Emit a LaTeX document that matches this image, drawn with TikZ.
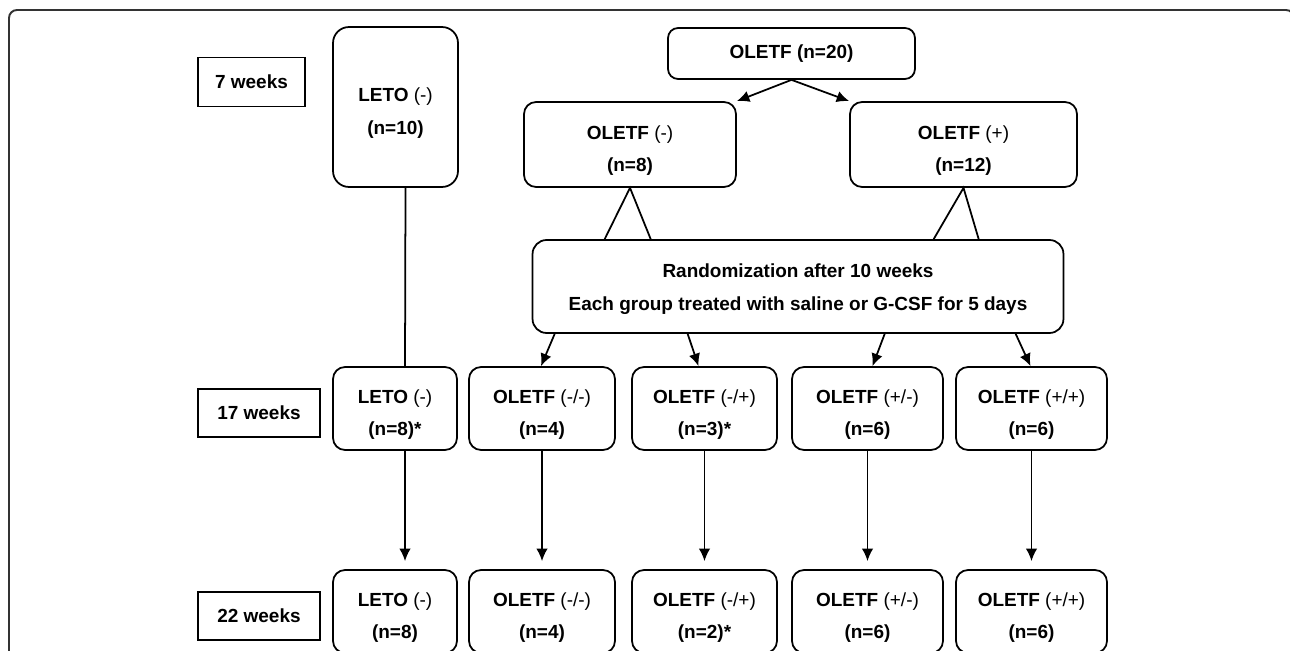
\documentclass[tikz,border=0pt]{standalone}
\usepackage{fontspec}
\setmainfont{Liberation Sans}
\usetikzlibrary{arrows.meta,calc}

\begin{document}
\begin{tikzpicture}[x=0.02cm, y=-0.02cm, >={Latex[length=2.5mm,width=2.3mm]}, line width=1pt,
  every node/.style={font=\fontsize{10.8}{18.7}\selectfont\bfseries, align=center, inner sep=0pt},
  week/.style={draw, minimum width=2.44cm, minimum height=0.96cm},
  grp/.style={draw, rounded corners=0.24cm, minimum height=1.66cm, text height=33.5pt}]

  \useasboundingbox (0,0) rectangle (1290,651);

  % Frame

  \draw[black!80, line width=1.1pt, rounded corners=0.16cm] (9,10) rectangle (1294,720);

  % Week labels

  \node[week, minimum width=2.14cm, minimum height=0.98cm] (wk0) at (251.5,82) {7 weeks};
  \node[week] (wk1) at (259,413) {17 weeks};
  \node[week] (wk2) at (259,616) {22 weeks};

  % LETO column

  \node[grp, rounded corners=0.32cm, minimum width=2.5cm, minimum height=3.2cm] (lt0) at (395.5,107) {LETO {\mdseries (-)}\\(n=10)};
  \node[grp, minimum width=2.48cm] (lt1) at (395,408.5) {LETO {\mdseries (-)}\\(n=8)*};
  \node[grp, minimum width=2.48cm] (lt2) at (395,611.5) {LETO {\mdseries (-)}\\(n=8)};

  \draw ($(lt0.south)+(10,0)$) -- ($(lt1.north)+(10,0)$);
  \draw[->, shorten >=0.16cm] ($(lt1.south)+(10,0)$) -- ($(lt2.north)+(10,0)$);

  % OLETF split

  \node[draw, rounded corners=0.2cm, minimum width=4.94cm, minimum height=1.02cm] (ot0) at (791.5,53.5) {OLETF (n=20)};
  \node[grp, minimum width=4.24cm, minimum height=1.7cm] (om) at (630,144.5) {OLETF {\mdseries (-)}\\(n=8)};
  \node[grp, minimum width=4.54cm, minimum height=1.7cm] (op) at (963.5,144.5) {OLETF {\mdseries (+)}\\(n=12)};

  \draw[->] (ot0.south) -- (om.north east);
  \draw[->] (ot0.south) -- (op.north west);

  % Randomization

  \node[grp, rounded corners=0.28cm, minimum width=10.62cm, minimum height=1.86cm, text height=29.4pt] (rnd) at (798,286.5)
    {Randomization after 10 weeks\\Each group treated with saline or G-CSF for 5 days};

  \draw ($(rnd.north west)+(73,0)$) -- (om.south) -- ($(rnd.north west)+(119,0)$);
  \draw ($(rnd.north west)+(402,0)$) -- (op.south) -- ($(rnd.north west)+(447,0)$);

  % 17 weeks

  \node[grp, minimum width=2.92cm] (b11) at (542,408.5) {OLETF {\mdseries (-/-)}\\(n=4)};
  \node[grp, minimum width=2.9cm] (b12) at (704.5,408.5) {OLETF {\mdseries (-/+)}\\(n=3)*};
  \node[grp, minimum width=3.02cm] (b13) at (867.5,408.5) {OLETF {\mdseries (+/-)}\\(n=6)};
  \node[grp, minimum width=3.02cm] (b14) at (1031.5,408.5) {OLETF {\mdseries (+/+)}\\(n=6)};

  \draw[->] ($(rnd.south west)+(23,0)$) -- ($(b11.north)+(-1,0)$);
  \draw[->] ($(rnd.south west)+(156,0)$) -- ($(b12.north)+(-6,0)$);
  \draw[->] ($(rnd.south west)+(353,0)$) -- ($(b13.north)+(5,0)$);
  \draw[->] ($(rnd.south west)+(484,0)$) -- ($(b14.north)+(-1,0)$);

  % 22 weeks

  \node[grp, minimum width=2.92cm] (b21) at (542,611.5) {OLETF {\mdseries (-/-)}\\(n=4)};
  \node[grp, minimum width=2.9cm] (b22) at (704.5,611.5) {OLETF {\mdseries (-/+)}\\(n=2)*};
  \node[grp, minimum width=3.02cm] (b23) at (867.5,611.5) {OLETF {\mdseries (+/-)}\\(n=6)};
  \node[grp, minimum width=3.02cm] (b24) at (1031.5,611.5) {OLETF {\mdseries (+/+)}\\(n=6)};

  \draw[->, shorten >=0.16cm] (b11) -- (b21);
  \draw[->, shorten >=0.16cm] (b12) -- (b22);
  \draw[->, shorten >=0.16cm] (b13) -- (b23);
  \draw[->, shorten >=0.16cm] (b14) -- (b24);

\end{tikzpicture}
\end{document}
